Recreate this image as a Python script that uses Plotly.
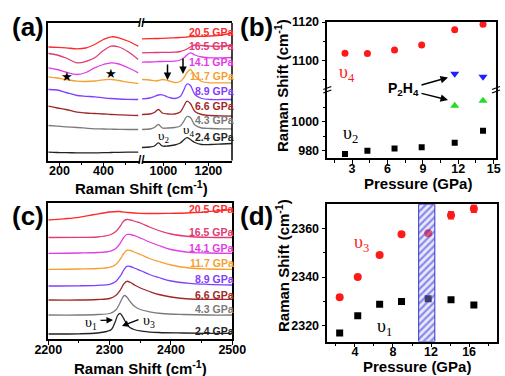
import plotly.graph_objects as go

W, H = 505, 376
def px(x): return x / W
def py(y): return 1 - y / H

# ---------------- data ----------------
labels = ["20.5 GPa", "16.5 GPa", "14.1 GPa", "11.7 GPa", "8.9 GPa", "6.6 GPa", "4.3 GPa", "2.4 GPa"]
colors = ["#ff2a2a", "#e23a73", "#e23ce6", "#f5a030", "#7f40ff", "#a02828", "#7a7a7a", "#222222"]

# panel (a) low-frequency segment (Raman shift, intensity a.u. with offsets)
a_left_x = [150, 190, 230, 280, 320, 360, 400, 435, 470, 510, 558]
a_left_y = [
    [113.5, 113.2, 112.7, 111.7, 112.5, 116, 121, 123.7, 122.7, 119.5, 114.3],
    [107, 105.5, 102.5, 97.7, 99, 102.7, 110, 114.3, 113.5, 109, 101],
    [92.7, 91, 88.3, 86, 88, 92.7, 96, 97.7, 96.5, 93, 87.7],
    [83.7, 82.5, 81, 79.3, 79, 79.5, 80.7, 81, 80, 78.3, 77],
    [71, 70.5, 68, 65, 64.2, 63.7, 62.7, 62, 61.5, 61.2, 61],
    [54.3, 52.5, 51, 48.3, 47.5, 47, 46.5, 46, 45.7, 45.3, 45],
    [35, 34.3, 33.7, 33, 32.3, 31.7, 31.5, 31.3, 31.2, 31, 31],
    [8.3, 8, 7.8, 7.7, 7.7, 7.7, 7.8, 8, 8.2, 8.3, 8.3],
]
# panel (a) high-frequency segment
a_right_x = [905, 940, 960, 978, 995, 1020, 1050, 1075, 1090, 1105, 1120, 1140, 1170, 1210, 1260, 1305]
a_right_y = [
    [121.7, 121.8, 122, 122, 122.2, 122.4, 122.7, 123, 123.2, 123.5, 123.8, 124, 124.2, 124.5, 125.5, 127.5],
    [107.7, 107.8, 108, 108, 108.2, 108.2, 108.3, 109, 110, 111.5, 113.5, 115.5, 115, 114.3, 114.5, 115],
    [98.3, 98.5, 98.7, 99, 99, 99.2, 99.3, 100.5, 102.5, 105.5, 107.7, 105.5, 103.5, 102.7, 102.7, 103],
    [81, 80.5, 79.7, 80, 81, 80, 78, 79, 82.5, 88, 91, 85, 79, 77.7, 77.7, 77.7],
    [61.7, 62.5, 64, 65.5, 65.7, 63.5, 62, 64, 70, 76.5, 75, 66, 62, 61, 61, 61],
    [46, 46.5, 48, 51, 47.5, 46.5, 46.5, 48.5, 54, 59.3, 57, 49, 46, 45, 44.5, 44.3],
    [31, 31.5, 33, 36, 32.5, 32.5, 33, 34.5, 39, 44, 43, 35.5, 32.5, 32, 31.7, 31.7],
    [13, 13.5, 14.5, 17.7, 14.5, 14.5, 15.5, 17.5, 20.5, 22.8, 21, 18, 16, 16, 16.5, 17],
]

# panel (b)
b_p = [2.4, 4.3, 6.6, 8.9, 11.7, 14.1]
b_nu4 = [1103.6, 1103.5, 1105.4, 1107.9, 1116.0, 1118.8]
b_nu2 = [977.8, 980.0, 981.6, 982.5, 985.6, 993.8]
b_p2h4_p = [11.7, 14.1]
b_p2h4_hi = [1092.9, 1091.4]
b_p2h4_lo = [1011.0, 1014.5]

# panel (c)
c_x_red = [2200, 2225, 2250, 2275, 2300, 2315, 2330, 2350, 2375, 2400, 2425, 2450, 2475, 2500]
c_x_mid = [2200, 2250, 2280, 2300, 2310, 2318, 2323, 2328, 2334, 2342, 2352, 2365, 2380, 2400, 2430, 2460, 2500]
c_x_gray = [2200, 2250, 2280, 2300, 2310, 2316, 2320, 2324, 2328, 2334, 2340, 2350, 2365, 2385, 2420, 2460, 2500]
c_x_black = [2200, 2250, 2280, 2295, 2303, 2309, 2313, 2317, 2321, 2326, 2332, 2340, 2355, 2380, 2420, 2460, 2500]
c_y = [
    [119, 120.2, 121.7, 124.5, 127, 127.5, 126.5, 125.7, 125.5, 125.7, 126, 126.7, 128, 129.5],
    [101.5, 101.7, 102, 104, 107.5, 113.5, 118, 119.5, 119, 117.5, 115.5, 112, 108.5, 105, 102.5, 101.7, 101.5],
    [85.7, 86, 86.5, 87.7, 90.5, 96.5, 101.5, 104.5, 104.5, 103, 100.5, 97, 93.5, 89.5, 86.7, 86, 85.7],
    [69.7, 70, 70.5, 71.7, 74.5, 80.5, 85.5, 88.7, 88.5, 86.5, 84, 80.5, 77.5, 74, 71, 70, 69.7],
    [53, 53.2, 53.7, 54.7, 57.5, 63.5, 69, 72.7, 72.5, 70.5, 68, 64.5, 61.5, 58, 55.7, 54.7, 54],
    [39, 39, 39.5, 40.5, 43.5, 49.5, 55, 57.7, 56.5, 53.5, 50.5, 47.5, 44.5, 42, 40, 39.7, 39.7],
    [24, 24, 24.5, 25.5, 29, 35, 40, 43.5, 42, 37, 33, 29.5, 27.2, 25.5, 24.5, 24, 24],
    [5, 5.2, 6, 7.5, 9.5, 17, 23.5, 25.7, 22.5, 17, 12, 9.5, 7.7, 6.5, 6, 5.7, 5.7],
]
c_x = [c_x_red] + [c_x_mid] * 5 + [c_x_gray, c_x_black]

# panel (d)
d_p = [2.4, 4.3, 6.6, 8.9, 11.7, 14.1, 16.5]
d_nu3 = [2331.8, 2340.0, 2349.1, 2357.5, 2358.0, 2365.3, 2368.0]
d_nu3_err = [0.5, 0.6, 0.5, 0.5, 0.7, 1.5, 1.5]
d_nu1 = [2317.1, 2324.2, 2328.9, 2330.0, 2331.1, 2330.7, 2328.6]
d_band = [10.7, 12.4]

# label positions (pixel rows) for pressure labels
a_label_rows = [31.5, 45.5, 61.5, 75.5, 90.7, 106, 120, 136.7]
c_label_rows = [209, 231.5, 247.5, 263, 279.3, 295, 309, 330.5]

# ---------------- figure ----------------
fig = go.Figure()
LW = 1.3
for i in range(8):
    fig.add_trace(go.Scatter(x=a_left_x, y=a_left_y[i], mode="lines", line=dict(color=colors[i], width=LW, shape="spline"),
                             xaxis="x", yaxis="y", hoverinfo="skip"))
    fig.add_trace(go.Scatter(x=a_right_x, y=a_right_y[i], mode="lines", line=dict(color=colors[i], width=LW, shape="spline"),
                             xaxis="x2", yaxis="y", hoverinfo="skip"))
    fig.add_trace(go.Scatter(x=c_x[i], y=c_y[i], mode="lines", line=dict(color=colors[i], width=LW, shape="spline"),
                             xaxis="x5", yaxis="y5", hoverinfo="skip"))

RED = "#ff1a1a"
# panel (b) points
fig.add_trace(go.Scatter(x=b_p, y=b_nu4, mode="markers", marker=dict(symbol="circle", size=7, color=RED),
                         xaxis="x4", yaxis="y4"))
fig.add_trace(go.Scatter(x=b_p2h4_p, y=b_p2h4_hi, mode="markers", marker=dict(symbol="triangle-down", size=8, color="#2020ff"),
                         xaxis="x4", yaxis="y4"))
fig.add_trace(go.Scatter(x=b_p2h4_p, y=b_p2h4_lo, mode="markers", marker=dict(symbol="triangle-up", size=8, color="#22dd22"),
                         xaxis="x3", yaxis="y3"))
fig.add_trace(go.Scatter(x=b_p, y=b_nu2, mode="markers", marker=dict(symbol="square", size=6, color="black"),
                         xaxis="x3", yaxis="y3"))

# panel (d) points
fig.add_trace(go.Scatter(x=d_p, y=d_nu3, mode="markers", marker=dict(symbol="circle", size=8, color=RED),
                         error_y=dict(type="data", array=d_nu3_err, color=RED, thickness=1.2, width=3),
                         xaxis="x6", yaxis="y6"))
fig.add_trace(go.Scatter(x=d_p, y=d_nu1, mode="markers", marker=dict(symbol="square", size=7, color="black"),
                         xaxis="x6", yaxis="y6"))
d_yr = [2313.65, 2369.8]
fig.add_trace(go.Scatter(x=[d_band[0], d_band[1], d_band[1], d_band[0], d_band[0]],
                         y=[d_yr[0], d_yr[0], d_yr[1], d_yr[1], d_yr[0]],
                         mode="lines", fill="toself", line=dict(color="#3535c8", width=1),
                         fillcolor="rgba(0,0,0,0)",
                         fillpattern=dict(shape="/", fgcolor="#2a2ad0", bgcolor="rgba(190,190,255,0.35)", size=5, solidity=0.45),
                         xaxis="x6", yaxis="y6", hoverinfo="skip"))

# ---------------- axes ----------------
TF = dict(family="Liberation Sans, Arial", size=12.5, color="black", weight="bold")
base = dict(showline=True, linecolor="black", linewidth=1.5, showgrid=False, zeroline=False, automargin=False,
            ticks="outside", ticklen=4, tickwidth=1.3, tickcolor="black", tickfont=TF)
XS = -6  # pull x tick labels closer to the axis
def minor(vals):
    return dict(tickmode="array", tickvals=vals, ticks="outside", ticklen=2.5, tickwidth=1.2, tickcolor="black", showgrid=False)

fig.update_layout(
    width=W, height=H, margin=dict(l=0, r=0, t=0, b=0, pad=0, autoexpand=False),
    paper_bgcolor="white", plot_bgcolor="white", showlegend=False,
    font=dict(family="Liberation Sans, Arial", color="black"),
    # (a)
    xaxis=dict(base, domain=[px(48), px(140)], range=[148, 566], anchor="y", mirror=True, ticklabelstandoff=XS,
               tickmode="array", tickvals=[200, 400], minor=minor([300, 500])),
    xaxis2=dict(base, domain=[px(142), px(232)], range=[905, 1305], anchor="y", mirror=True, ticklabelstandoff=XS,
                tickmode="array", tickvals=[1000, 1200], minor=minor([1100])),
    yaxis=dict(base, domain=[py(160.5), py(23)], range=[0, 137.5], anchor="x", ticks="", showticklabels=False),
    # (b)
    xaxis3=dict(base, domain=[px(327.3), px(496)], range=[0.9, 15.2], anchor="y3", ticklabelstandoff=XS,
                tickmode="array", tickvals=[3, 6, 9, 12, 15], minor=minor([1.5, 4.5, 7.5, 10.5, 13.5])),
    xaxis4=dict(base, domain=[px(327.3), px(496)], range=[0.9, 15.2], anchor="y4", side="top",
                ticks="", showticklabels=False),
    yaxis3=dict(base, domain=[py(158.3), py(90)], range=[974.8, 1021.9], anchor="x3", mirror=True,
                tickmode="array", tickvals=[980, 1000], minor=minor([990, 1010])),
    yaxis4=dict(base, domain=[py(90), py(22)], range=[1084.4, 1120], anchor="x4", mirror=True,
                tickmode="array", tickvals=[1100, 1120], minor=minor([1090, 1110])),
    # (c)
    xaxis5=dict(base, domain=[px(48.3), px(232.3)], range=[2200, 2500], anchor="y5", mirror=True, ticklabelstandoff=XS,
                tickmode="array", tickvals=[2200, 2300, 2400, 2500], minor=minor([2250, 2350, 2450])),
    yaxis5=dict(base, domain=[py(339), py(203.3)], range=[0, 135.7], anchor="x5", mirror=True,
                ticks="", showticklabels=False),
    # (d)
    xaxis6=dict(base, domain=[px(327.3), px(496.7)], range=[1.1, 18.9], anchor="y6", mirror=True, ticklabelstandoff=XS,
                tickmode="array", tickvals=[4, 8, 12, 16], minor=minor([2, 6, 10, 14, 18])),
    yaxis6=dict(base, domain=[py(341.5), py(204.3)], range=d_yr, anchor="x6", mirror=True,
                tickmode="array", tickvals=[2320, 2340, 2360], minor=minor([2330, 2350])),
)

# ---------------- shapes (frame pieces & break marks) ----------------
shapes = [dict(type="line", xref="paper", yref="paper", x0=px(232), x1=px(232), y0=py(160.5), y1=py(23),
               line=dict(color="black", width=1.5))]
for bx in (327.3, 496):
    for dy in (-2.0, 1.5):
        shapes.append(dict(type="line", xref="paper", yref="paper", x0=px(bx - 4), x1=px(bx + 4),
                           y0=py(90 + dy + 1.5), y1=py(90 + dy - 1.5), line=dict(color="black", width=1.3)))
fig.update_layout(shapes=shapes)

# ---------------- annotations ----------------
ann = []
def text(x, y, s, size=13, color="black", family="Liberation Sans, Arial", xanchor="center", angle=0, bold=False):
    ann.append(dict(x=px(x), y=py(y), xref="paper", yref="paper", text=s, showarrow=False,
                    xanchor=xanchor, yanchor="middle", textangle=angle,
                    font=dict(size=size, color=color, family=family, weight="bold" if bold else "normal")))
def arrow(xt, yt, xs, ys, width=1.5):
    ann.append(dict(x=px(xt), y=py(yt), xref="paper", yref="paper", text="", showarrow=True,
                    ax=xs - xt, ay=ys - yt, axref="pixel", ayref="pixel",
                    arrowhead=2, arrowsize=1, arrowwidth=width, arrowcolor="black", standoff=0))

# panel letters
text(28, 27, "(a)", size=26, bold=True)
text(256, 27, "(b)", size=26, bold=True)
text(28, 216, "(c)", size=26, bold=True)
text(256, 216, "(d)", size=26, bold=True)

# pressure labels
for i in range(8):
    text(235.5, a_label_rows[i], labels[i], size=10.5, color=colors[i], xanchor="right", bold=True)
    text(235.5, c_label_rows[i], labels[i], size=10.5, color=colors[i], xanchor="right", bold=True)

# axis titles
text(141, 187, "Raman Shift (cm<sup>-1</sup>)", size=15, bold=True)
text(418, 184, "Pressure (GPa)", size=15, bold=True)
text(140, 367.5, "Raman Shift (cm<sup>-1</sup>)", size=15, bold=True)
text(417, 366, "Pressure (GPa)", size=15, bold=True)
text(282, 86, "Raman Shift (cm<sup>-1</sup>)", size=15, bold=True, angle=-90)
text(282, 266, "Raman Shift (cm<sup>-1</sup>)", size=15, bold=True, angle=-90)

# break marks in (a)
text(141, 22.5, "//", size=12, bold=True)
text(141, 160.5, "//", size=12, bold=True)

SERIF = "Liberation Serif, Times New Roman"
# (a) extras
text(66.7, 77, "★", size=13, family="DejaVu Sans")
text(111, 73.5, "★", size=13, family="DejaVu Sans")
arrow(167.5, 80, 167.5, 63)
arrow(183, 74, 183, 57)
text(163, 137, "υ<sub>2</sub>", size=13, family=SERIF)
text(188, 130, "υ<sub>4</sub>", size=13, family=SERIF)

# (b) extras
text(347, 73, "υ<sub>4</sub>", size=18, color=RED, family=SERIF)
text(350, 134, "υ<sub>2</sub>", size=18, family=SERIF)
text(403, 89, "P<sub>2</sub>H<sub>4</sub>", size=14, bold=True)
arrow(448, 77.5, 420, 85.5)
arrow(448, 100, 420, 93)

# (c) extras
text(91, 323, "υ<sub>1</sub>", size=14, family=SERIF)
text(149, 321, "υ<sub>3</sub>", size=14, family=SERIF)
arrow(113, 320, 99, 320.5, width=1.3)
arrow(122, 326, 140, 319, width=1.3)

# (d) extras
text(361, 243, "υ<sub>3</sub>", size=18, color=RED, family=SERIF)
text(384, 327, "υ<sub>1</sub>", size=18, family=SERIF)

fig.update_layout(annotations=ann)
fig.write_html("out.html", config={"displayModeBar": False},
               post_script="document.body.style.margin='0px';document.body.style.overflow='hidden';")
